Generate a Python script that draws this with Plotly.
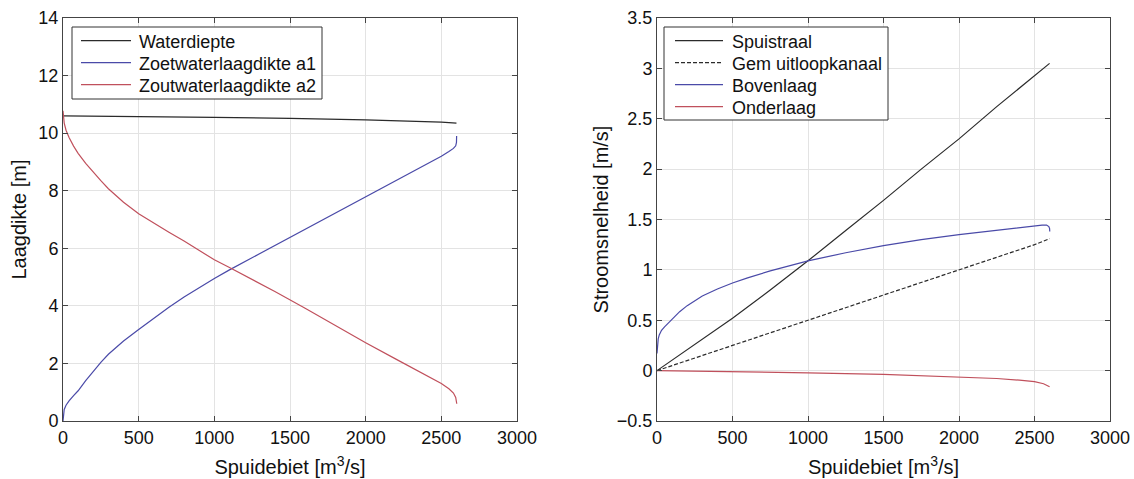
import plotly.graph_objects as go

# ---- Left panel data: layer thickness vs discharge ----
q_wd = [0, 500, 1000, 1500, 2000, 2500, 2600]
waterdiepte = [10.60, 10.58, 10.55, 10.51, 10.46, 10.38, 10.35]

q_a1 = [0, 2, 8, 20, 40, 70, 100, 150, 200, 250, 300, 400, 500, 600, 700, 800,
        900, 1000, 1100, 1200, 1400, 1600, 1800, 2000, 2200, 2400, 2500, 2550,
        2580, 2595, 2600, 2601]
a1 = [0.0, 0.2, 0.4, 0.55, 0.7, 0.88, 1.05, 1.4, 1.74, 2.04, 2.32, 2.78, 3.18,
      3.57, 3.95, 4.31, 4.64, 4.95, 5.25, 5.53, 6.1, 6.66, 7.22, 7.78, 8.34,
      8.92, 9.2, 9.36, 9.47, 9.56, 9.68, 9.9]

q_a2 = [0, 2, 8, 20, 40, 70, 100, 150, 200, 250, 300, 400, 500, 600, 700, 800,
        900, 1000, 1100, 1200, 1400, 1600, 1800, 2000, 2200, 2400, 2500, 2550,
        2580, 2595, 2602]
a2 = [10.78, 10.6, 10.35, 10.1, 9.85, 9.55, 9.3, 8.95, 8.64, 8.35, 8.07, 7.6,
      7.2, 6.87, 6.56, 6.25, 5.93, 5.6, 5.33, 5.06, 4.5, 3.92, 3.31, 2.72, 2.15,
      1.6, 1.3, 1.12, 0.97, 0.82, 0.6]

# ---- Right panel data: flow velocity vs discharge ----
q_sp = [0, 250, 500, 750, 1000, 1250, 1500, 1750, 2000, 2250, 2500, 2600]
spuistraal = [0, 0.258, 0.52, 0.80, 1.09, 1.39, 1.69, 2.00, 2.30, 2.62, 2.93, 3.05]

q_gem = [0, 500, 1000, 1500, 2000, 2500, 2600]
gem_uitloop = [0, 0.25, 0.5, 0.75, 1.0, 1.25, 1.31]

q_bov = [0, 3, 8, 15, 30, 50, 75, 100, 150, 200, 250, 300, 400, 500, 600, 750,
         1000, 1250, 1500, 1750, 2000, 2250, 2500, 2550, 2580, 2595, 2600, 2601]
bovenlaag = [0.17, 0.26, 0.315, 0.355, 0.40, 0.435, 0.475, 0.51, 0.585, 0.645,
             0.695, 0.74, 0.81, 0.87, 0.92, 0.99, 1.09, 1.17, 1.24, 1.3, 1.35,
             1.395, 1.435, 1.445, 1.445, 1.43, 1.41, 1.38]

q_ond = [0, 500, 1000, 1500, 2000, 2250, 2400, 2500, 2560, 2600]
onderlaag = [0, -0.01, -0.022, -0.038, -0.06, -0.078, -0.095, -0.11, -0.13, -0.16]

legend_left = ["Waterdiepte", "Zoetwaterlaagdikte a1", "Zoutwaterlaagdikte a2"]
legend_right = ["Spuistraal", "Gem uitloopkanaal", "Bovenlaag", "Onderlaag"]

BLACK = "#2b2b2b"
BLUE = "#4a4aa8"
RED = "#c0505c"
FONT = "Liberation Sans, Arial, sans-serif"
W, H = 1134, 479


def X(px):
    return px / W


def Y(py):
    return 1 - py / H


fig = go.Figure()
left_styles = [dict(color=BLACK, width=1.2), dict(color=BLUE, width=1.2), dict(color=RED, width=1.2)]
right_styles = [dict(color=BLACK, width=1.2), dict(color=BLACK, width=1.2, dash="4px,2px"),
                dict(color=BLUE, width=1.2), dict(color=RED, width=1.2)]

for xs, ys, nm, st in zip([q_wd, q_a1, q_a2], [waterdiepte, a1, a2], legend_left, left_styles):
    fig.add_trace(go.Scatter(x=xs, y=ys, mode="lines", name=nm, line=st,
                             xaxis="x", yaxis="y", showlegend=False))
for xs, ys, nm, st in zip([q_sp, q_gem, q_bov, q_ond], [spuistraal, gem_uitloop, bovenlaag, onderlaag],
                          legend_right, right_styles):
    fig.add_trace(go.Scatter(x=xs, y=ys, mode="lines", name=nm, line=st,
                             xaxis="x2", yaxis="y2", showlegend=False))

# ---- manual legends (tight boxes like the original) ----
shapes = []
annotations = []


def legend_box(x0, x1, y0, y1, line_x0, line_x1, text_x, rows, names, styles):
    shapes.append(dict(type="rect", xref="paper", yref="paper", x0=X(x0), x1=X(x1),
                       y0=Y(y1), y1=Y(y0), line=dict(color="#333", width=1),
                       fillcolor="white", layer="above"))
    for ry, nm, st in zip(rows, names, styles):
        shapes.append(dict(type="line", xref="paper", yref="paper", x0=X(line_x0), x1=X(line_x1),
                           y0=Y(ry), y1=Y(ry), line=st, layer="above"))
        annotations.append(dict(text=nm, xref="paper", yref="paper", x=X(text_x), y=Y(ry + 1),
                                xanchor="left", yanchor="middle", showarrow=False,
                                font=dict(family=FONT, size=18, color="#111")))


legend_box(72, 322, 27, 99, 81, 131, 137, [40.7, 62.7, 84.7], legend_left, left_styles)
legend_box(664, 888, 27, 120, 675, 723, 730, [40.7, 62.7, 84.7, 106.7], legend_right, right_styles)

axis_common = dict(showline=True, linecolor="#444", linewidth=1, mirror="ticks",
                   ticks="inside", ticklen=5, tickcolor="#444", automargin=False,
                   showgrid=True, gridcolor="#e3e3e3", gridwidth=1, zeroline=False,
                   tickfont=dict(family=FONT, size=18, color="#111"))

y_dom = [Y(421), Y(18)]
TITLE_FONT = dict(family=FONT, size=20, color="#111")

fig.update_layout(
    width=W, height=H,
    margin=dict(l=0, r=0, t=0, b=0, pad=0),
    paper_bgcolor="white", plot_bgcolor="white",
    font=dict(family=FONT, color="#111"),
    xaxis=dict(domain=[X(63), X(517)], range=[0, 3000], dtick=500, anchor="y",
               title=dict(text="Spuidebiet [m<sup>3</sup>/s]", font=TITLE_FONT, standoff=13),
               **axis_common),
    yaxis=dict(domain=y_dom, range=[0, 14], dtick=2, anchor="x",
               title=dict(text="Laagdikte [m]", font=TITLE_FONT, standoff=6),
               **axis_common),
    xaxis2=dict(domain=[X(657), X(1110)], range=[0, 3000], dtick=500, anchor="y2",
                title=dict(text="Spuidebiet [m<sup>3</sup>/s]", font=TITLE_FONT, standoff=13),
                **axis_common),
    yaxis2=dict(domain=y_dom, range=[-0.5, 3.5], dtick=0.5, anchor="x2",
                title=dict(text="Stroomsnelheid [m/s]", font=TITLE_FONT, standoff=2),
                **axis_common),
    shapes=shapes,
    annotations=annotations,
    showlegend=False,
)

fig.write_html("out.html")
